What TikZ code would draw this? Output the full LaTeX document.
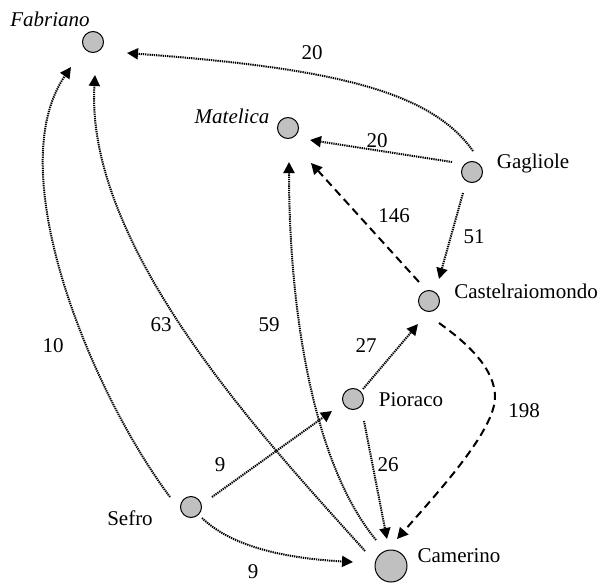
\documentclass[tikz,border=0pt]{standalone}
\usepackage{fontspec}
\setmainfont{Liberation Serif}
\usetikzlibrary{arrows.meta}
\begin{document}
\begin{tikzpicture}[x=1pt,y=-1pt,
  town/.style={circle,draw=black,line width=1pt,fill=townfill,minimum size=21pt,inner sep=0pt},
  bigtown/.style={town,minimum size=32pt},
  lbl/.style={anchor=base,inner sep=0pt,font=\fontsize{21}{25}\selectfont},
  ilbl/.style={lbl,font=\fontsize{21}{25}\selectfont\itshape},
  tip/.style={-{Triangle[length=11pt,width=11pt]}},
  dotline/.style={tip,line width=2pt,dash pattern=on 1.3pt off 0.9pt},
  dashline/.style={tip,line width=2pt,dash pattern=on 8pt off 5pt}]
\definecolor{townfill}{HTML}{C0C0C0}
\useasboundingbox (0,0) rectangle (602,583);

% towns
\node[town] (F) at (93,42) {};
\node[town] (M) at (288,128) {};
\node[town] (G) at (472,172) {};
\node[town] (C) at (429,301) {};
\node[town] (P) at (353,399) {};
\node[town] (S) at (191,507) {};
\node[bigtown] (K) at (391,566) {};

% town names
\node[ilbl] (nF) at (50,27) {Fabriano};
\node[ilbl] (nM) at (232,124) {Matelica};
\node[lbl] (nG) at (533,168) {Gagliole};
\node[lbl] (nC) at (526,298) {Castelraiomondo};
\node[lbl] (nP) at (411,406) {Pioraco};
\node[lbl] (nS) at (130,525) {Sefro};
\node[lbl] (nK) at (459,562) {Camerino};

% distances
\node[lbl] (dGF) at (312,60) {20};
\node[lbl] (dGM) at (377,147) {20};
\node[lbl] (dCM) at (394,222) {146};
\node[lbl] (dGC) at (474,243) {51};
\node[lbl] (dSF) at (53,352) {10};
\node[lbl] (dKF) at (161,331) {63};
\node[lbl] (dKM) at (269,331) {59};
\node[lbl] (dSP) at (220,471) {9};
\node[lbl] (dSK) at (253,578) {9};
\node[lbl] (dPC) at (366,352) {27};
\node[lbl] (dCK) at (524,417) {198};
\node[lbl] (dPK) at (388,471) {26};

% road links
\draw[dotline] ([shift={(1,-21)}]G.center) .. controls (430,90) and (330,68) .. ([shift={(34,11)}]F.center);
\draw[dotline] ([shift={(-20,-10)}]G.center) -- ([shift={(22,12)}]M.center);
\draw[dashline] ([shift={(-10,-19)}]C.center) -- ([shift={(23,35)}]M.center);
\draw[dotline] ([shift={(-9,21)}]G.center) -- ([shift={(10,-22)}]C.center);
\draw[dashline] ([shift={(10,22)}]C.center) .. controls (470,345) and (495,370) .. (495,397)
  .. controls (495,430) and (440,490) .. ([shift={(6,-27)}]K.center);
\draw[dotline] ([shift={(10,-10)}]P.center) -- ([shift={(-11,23)}]C.center);
\draw[dotline] ([shift={(11,22)}]P.center) -- ([shift={(-4,-27)}]K.center);
\draw[dotline] ([shift={(21,-10)}]S.center) -- ([shift={(-21,12)}]P.center);
\draw[dotline] ([shift={(11,11)}]S.center) .. controls (230,545) and (280,558) .. ([shift={(-38,-4)}]K.center);
\draw[dotline] ([shift={(-21,-10)}]S.center) .. controls (90,390) and (0,170) .. ([shift={(-22,25)}]F.center);
\draw[dotline] ([shift={(-26,-15)}]K.center) .. controls (270,445) and (85,250) .. ([shift={(2,33)}]F.center);
\draw[dotline] ([shift={(-15,-26)}]K.center) .. controls (310,460) and (289,300) .. ([shift={(1,34)}]M.center);
\end{tikzpicture}
\end{document}
